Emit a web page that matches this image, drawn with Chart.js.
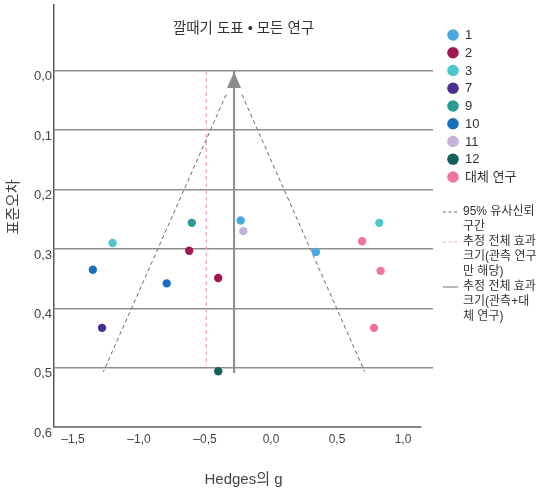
<!DOCTYPE html>
<html lang="ko">
<head>
<meta charset="utf-8">
<title>깔때기 도표</title>
<script src="https://cdn.jsdelivr.net/npm/chart.js@4.4.1/dist/chart.umd.min.js"></script>
<style>
  html, body { margin: 0; padding: 0; background: #fff; }
  #wrap { width: 538px; height: 491px; }
</style>
</head>
<body>
<div id="wrap"><canvas id="funnel" width="538" height="491"></canvas></div>
<script>
// ---- texts ----
const chartTitle = '깔때기 도표 • 모든 연구';
const xAxisTitle = 'Hedges의 g';
const yAxisTitle = '표준오차';

// ---- axis ticks ----
const xTickValues = [-1.5, -1.0, -0.5, 0.0, 0.5, 1.0];
const yTickValues = [0.0, 0.1, 0.2, 0.3, 0.4, 0.5, 0.6];

// ---- studies: [Hedges g, standard error] ----
const study1  = [[-0.23, 0.252], [0.34, 0.305]];
const study2  = [[-0.62, 0.303], [-0.40, 0.349]];
const study3  = [[-1.20, 0.290], [0.82, 0.256]];
const study7  = [[-1.28, 0.433]];
const study9  = [[-0.60, 0.256]];
const study10 = [[-1.35, 0.335], [-0.79, 0.358]];
const study11 = [[-0.21, 0.270]];
const study12 = [[-0.40, 0.506]];
const imputedStudies = [[0.69, 0.287], [0.83, 0.337], [0.78, 0.433]];

// ---- reference lines: [Hedges g, standard error] ----
const ciLeftEdge  = [[-0.34, 0.04], [-1.27, 0.507]];
const ciRightEdge = [[-0.22, 0.04], [0.71, 0.507]];
const observedOnlyEffect = [[-0.49, 0.0], [-0.49, 0.497]];
const combinedEffect     = [[-0.28, 0.0], [-0.28, 0.509]];

const FONT = '"Liberation Sans", "Noto Sans CJK KR", sans-serif';
const toXY = arr => arr.map(([x, y]) => ({ x, y }));
const fmt = v => (v < 0 ? '–' : '') + Math.abs(v).toFixed(1).replace('.', ',');

function pointSet(label, rows, color) {
  return {
    label, data: toXY(rows), kind: 'point',
    backgroundColor: color, borderColor: color, borderWidth: 0,
    pointRadius: 4.2, pointHoverRadius: 4.2
  };
}
function lineSet(label, rows, color, dash, width, extra) {
  return Object.assign({
    label, data: rows, kind: 'line', showLine: true,
    borderColor: color, backgroundColor: color, borderDash: dash,
    borderWidth: width, pointRadius: 0, pointHoverRadius: 0, fill: false
  }, extra || {});
}

// the two confidence edges form one dataset, separated by a gap
const ciRows = toXY(ciLeftEdge).concat([{ x: null, y: null }], toXY(ciRightEdge));

const datasets = [
  pointSet('1', study1, '#4aa7df'),
  pointSet('2', study2, '#a1184f'),
  pointSet('3', study3, '#4fc6cb'),
  pointSet('7', study7, '#4b2f90'),
  pointSet('9', study9, '#2a9c94'),
  pointSet('10', study10, '#1b6ebd'),
  pointSet('11', study11, '#c6b1d7'),
  pointSet('12', study12, '#145f5d'),
  pointSet('대체 연구', imputedStudies, '#f173a1'),
  lineSet('95% 유사신뢰\n구간', ciRows, '#6a6a6a', [4, 3], 1, { spanGaps: false }),
  lineSet('추정 전체 효과\n크기(관측 연구\n만 해당)', toXY(observedOnlyEffect), '#f6a9c7', [4, 3], 1.4),
  lineSet('추정 전체 효과\n크기(관측+대\n체 연구)', toXY(combinedEffect), '#8c8c8c', [], 2, { arrowHead: true })
];

// title inside the plot area, arrowhead, bottom axis line, y title and side legend
const decorations = {
  id: 'decorations',
  afterDatasetsDraw(chart) {
    const ctx = chart.ctx;
    chart.data.datasets.forEach((ds, i) => {
      if (!ds.arrowHead) return;
      const p = chart.getDatasetMeta(i).data[0];
      ctx.save();
      ctx.fillStyle = ds.borderColor;
      ctx.beginPath();
      ctx.moveTo(p.x, p.y + 1);
      ctx.lineTo(p.x + 7, p.y + 17);
      ctx.lineTo(p.x - 7, p.y + 17);
      ctx.closePath();
      ctx.fill();
      ctx.restore();
    });
  },
  afterDraw(chart) {
    const ctx = chart.ctx;
    const area = chart.chartArea;
    const xs = chart.scales.x;
    ctx.save();
    // bottom axis line
    ctx.strokeStyle = '#5a5a5a';
    ctx.lineWidth = 1.5;
    ctx.beginPath();
    ctx.moveTo(area.left, area.bottom);
    ctx.lineTo(xs.getPixelForValue(1.14), area.bottom);
    ctx.stroke();

    // chart title
    ctx.fillStyle = '#333';
    ctx.font = '14.5px ' + FONT;
    ctx.textAlign = 'center';
    ctx.textBaseline = 'middle';
    ctx.fillText(chartTitle, (area.left + area.right) / 2, 29);

    // y axis title
    ctx.save();
    ctx.translate(14, 207);
    ctx.rotate(-Math.PI / 2);
    ctx.fillStyle = '#444';
    ctx.font = '15px ' + FONT;
    ctx.fillText(yAxisTitle, 0, 0);
    ctx.restore();

    // legend
    ctx.textAlign = 'left';
    let py = 35;
    let ly = 212;
    chart.data.datasets.forEach(ds => {
      if (ds.kind === 'point') {
        ctx.fillStyle = ds.backgroundColor;
        ctx.beginPath();
        ctx.arc(453, py, 5.8, 0, Math.PI * 2);
        ctx.fill();
        ctx.fillStyle = '#333';
        ctx.font = '13px ' + FONT;
        ctx.fillText(ds.label, 465, py + 0.5);
        py += 17.75;
      } else {
        ctx.strokeStyle = ds.borderColor;
        ctx.lineWidth = Math.min(ds.borderWidth, 1.2);
        ctx.setLineDash(ds.borderDash.length ? [3, 2.5] : []);
        ctx.beginPath();
        ctx.moveTo(443, ly);
        ctx.lineTo(458, ly);
        ctx.stroke();
        ctx.setLineDash([]);
        ctx.fillStyle = '#333';
        ctx.font = '12px ' + FONT;
        ds.label.split('\n').forEach(line => {
          ctx.fillText(line, 463, ly);
          ly += 15;
        });
      }
    });
    ctx.restore();
  }
};

new Chart(document.getElementById('funnel'), {
  type: 'scatter',
  data: { datasets },
  plugins: [decorations],
  options: {
    responsive: false,
    animation: false,
    devicePixelRatio: 1,
    layout: { padding: { top: 5, right: 105, left: 0, bottom: 0 } },
    plugins: {
      legend: { display: false },
      title: { display: false },
      tooltip: { enabled: false }
    },
    scales: {
      x: {
        type: 'linear',
        min: -1.644,
        max: 1.227,
        afterBuildTicks: s => { s.ticks = xTickValues.map(v => ({ value: v })); },
        afterFit: s => { s.height = 64; s.paddingLeft = 0; s.paddingRight = 0; },
        grid: { display: false, drawTicks: false },
        border: { display: false },
        ticks: {
          padding: 5,
          color: '#444',
          font: { family: FONT, size: 12 },
          callback: v => fmt(v)
        },
        title: {
          display: true,
          text: xAxisTitle,
          color: '#444',
          font: { family: FONT, size: 15 },
          padding: { top: 0, bottom: 2 }
        }
      },
      y: {
        type: 'linear',
        reverse: true,
        min: -0.111,
        max: 0.6,
        afterBuildTicks: s => { s.ticks = yTickValues.map(v => ({ value: v })); },
        afterFit: s => { s.width = 54; s.paddingTop = 0; s.paddingBottom = 0; },
        grid: {
          drawTicks: false,
          lineWidth: 1.5,
          color: c => (c.tick && Math.abs(c.tick.value - 0.6) < 1e-9) ? 'rgba(0,0,0,0)' : '#8e8e8e'
        },
        border: { display: true, color: '#5a5a5a', width: 1.5 },
        ticks: {
          padding: 2,
          labelOffset: 6,
          color: '#444',
          font: { family: FONT, size: 13 },
          callback: v => fmt(v)
        },
        title: { display: false, text: yAxisTitle }
      }
    }
  }
});
</script>
</body>
</html>
